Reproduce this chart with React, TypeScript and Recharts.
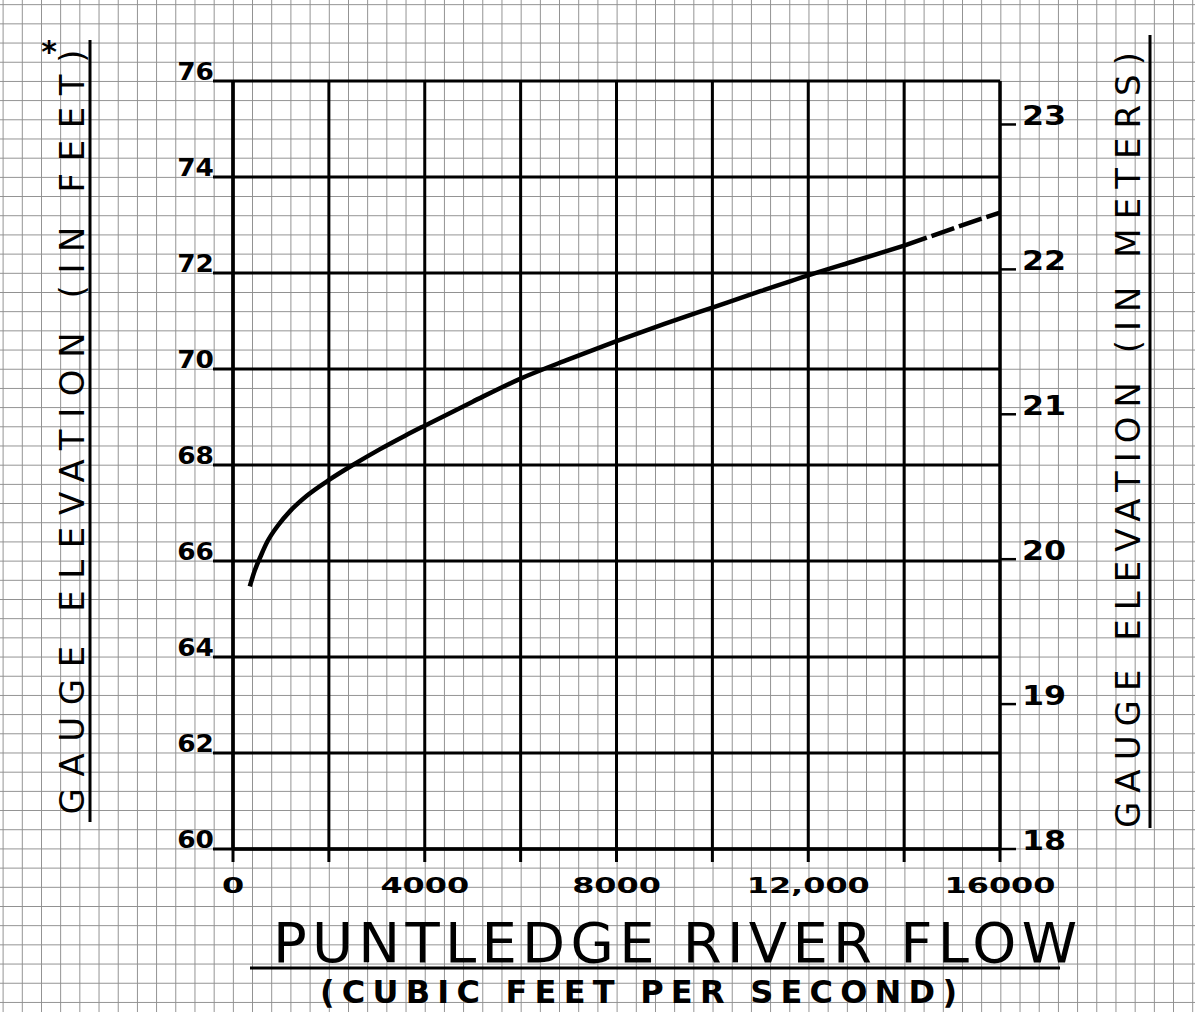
import React from 'react';
import { LineChart, Line, XAxis, YAxis, CartesianGrid } from 'recharts';

// rating curve
const flowCfs = [350, 450, 590, 720, 930, 1200, 1540, 2020, 2500, 3050, 3590, 4000, 5000, 6000, 7000, 8000, 9000, 10000, 11000, 12000, 13000, 14000, 15000, 16000];
const elevationFt = [65.47, 65.79, 66.13, 66.41, 66.73, 67.05, 67.36, 67.7, 68.0, 68.32, 68.61, 68.82, 69.32, 69.8, 70.2, 70.58, 70.94, 71.28, 71.62, 71.95, 72.26, 72.57, 72.92, 73.26];
const dashedFrom = 14000;

const flowTicks = [0, 2000, 4000, 6000, 8000, 10000, 12000, 14000, 16000];
const flowLabels: Record<number, string> = { 0: '0', 4000: '4000', 8000: '8000', 12000: '12,000', 16000: '16000' };
const feetTicks = [60, 62, 64, 66, 68, 70, 72, 74, 76];
const meterTicks = [18, 19, 20, 21, 22, 23];

const data = flowCfs.map((flow, i) => ({
  flow,
  solid: flow <= dashedFrom ? elevationFt[i] : null,
  dashed: flow >= dashedFrom ? elevationFt[i] : null,
}));

const FONT = '"DejaVu Sans", sans-serif';

function FlowTick({ x, y, payload }: any) {
  const label = flowLabels[payload.value];
  return (
    <g>
      <line x1={x} y1={y} x2={x} y2={y + 13} stroke="#000" strokeWidth={3} />
      {label && (
        <text transform={`translate(${x}, ${y + 44}) scale(1.45, 1)`} textAnchor="middle" fontSize={22} fontWeight={700} fontFamily={FONT} fill="#000">
          {label}
        </text>
      )}
    </g>
  );
}

function FeetTick({ x, y, payload }: any) {
  return (
    <g>
      <line x1={x - 20} y1={y} x2={x} y2={y} stroke="#000" strokeWidth={3} />
      <text transform={`translate(${x - 19}, ${y - 1}) scale(1.1, 1)`} textAnchor="end" fontSize={24} fontWeight={700} fontFamily={FONT} fill="#000">
        {payload.value}
      </text>
    </g>
  );
}

function MeterTick({ x, y, payload }: any) {
  return (
    <g>
      <line x1={x} y1={y} x2={x + 16} y2={y} stroke="#000" strokeWidth={2.5} />
      <text transform={`translate(${x + 22}, ${y + 1}) scale(1.22, 1)`} textAnchor="start" fontSize={26} fontWeight={700} fontFamily={FONT} fill="#000">
        {payload.value}
      </text>
    </g>
  );
}

export default function App() {
  const paper = {
    position: 'absolute' as const,
    left: 0,
    top: 0,
    width: 1195,
    height: 1012,
    backgroundColor: '#fff',
    backgroundImage:
      'linear-gradient(to right, #8f8f8f 1px, transparent 1px), linear-gradient(to bottom, #8f8f8f 1px, transparent 1px)',
    backgroundSize: '19.2px 19.2px',
    backgroundPosition: '21.8px 4.2px',
    overflow: 'hidden',
  };

  return (
    <div style={paper}>
      <LineChart width={1195} height={1012} data={data} margin={{ top: 81, right: 0, bottom: 0, left: 0 }}>
        <CartesianGrid yAxisId="ft" stroke="#000" strokeWidth={3} />
        <XAxis
          dataKey="flow"
          type="number"
          domain={[0, 16000]}
          ticks={flowTicks}
          height={163}
          tickSize={0}
          tickMargin={0}
          tickLine={false}
          axisLine={{ stroke: '#000', strokeWidth: 3.5 }}
          tick={<FlowTick />}
          interval={0}
        />
        <YAxis
          yAxisId="ft"
          type="number"
          domain={[60, 76]}
          ticks={feetTicks}
          width={233}
          tickSize={0}
          tickMargin={0}
          tickLine={false}
          axisLine={{ stroke: '#000', strokeWidth: 3.5 }}
          tick={<FeetTick />}
          interval={0}
        />
        <YAxis
          yAxisId="m"
          orientation="right"
          type="number"
          domain={[18, 23.3]}
          ticks={meterTicks}
          allowDataOverflow
          width={195}
          tickSize={0}
          tickMargin={0}
          tickLine={false}
          axisLine={{ stroke: '#000', strokeWidth: 3 }}
          tick={<MeterTick />}
          interval={0}
        />
        <Line yAxisId="ft" type="monotone" dataKey="solid" stroke="#000" strokeWidth={4.5} dot={false} connectNulls={false} isAnimationActive={false} />
        <Line yAxisId="ft" type="monotone" dataKey="dashed" stroke="#000" strokeWidth={4.5} strokeDasharray="24 5" dot={false} connectNulls={false} isAnimationActive={false} />
      </LineChart>
      <svg width={1195} height={1012} style={{ position: 'absolute', left: 0, top: 0, pointerEvents: 'none' }}>
        <g fontFamily={FONT} fill="#000">
          <text transform="translate(84, 432) rotate(-90)" textAnchor="middle" fontSize={34} textLength={765} lengthAdjust="spacing">
            GAUGE ELEVATION (IN FEET)
          </text>
          <text x={49} y={62} textAnchor="middle" fontSize={30} fontWeight={700}>*</text>
          <line x1={90} y1={40} x2={90} y2={822} stroke="#000" strokeWidth={3} />

          <text transform="translate(1140, 440) rotate(-90)" textAnchor="middle" fontSize={34} textLength={776} lengthAdjust="spacing">
            GAUGE ELEVATION (IN METERS)
          </text>
          <line x1={1150} y1={35} x2={1150} y2={828} stroke="#000" strokeWidth={3} />

          <text x={273} y={962} fontSize={56} textLength={804} lengthAdjust="spacing">
            PUNTLEDGE RIVER FLOW
          </text>
          <line x1={250} y1={968} x2={1060} y2={968} stroke="#000" strokeWidth={3} />
          <text x={320} y={1003} fontSize={32} fontWeight={700} textLength={637} lengthAdjust="spacing">
            (CUBIC FEET PER SECOND)
          </text>
        </g>
      </svg>
    </div>
  );
}
